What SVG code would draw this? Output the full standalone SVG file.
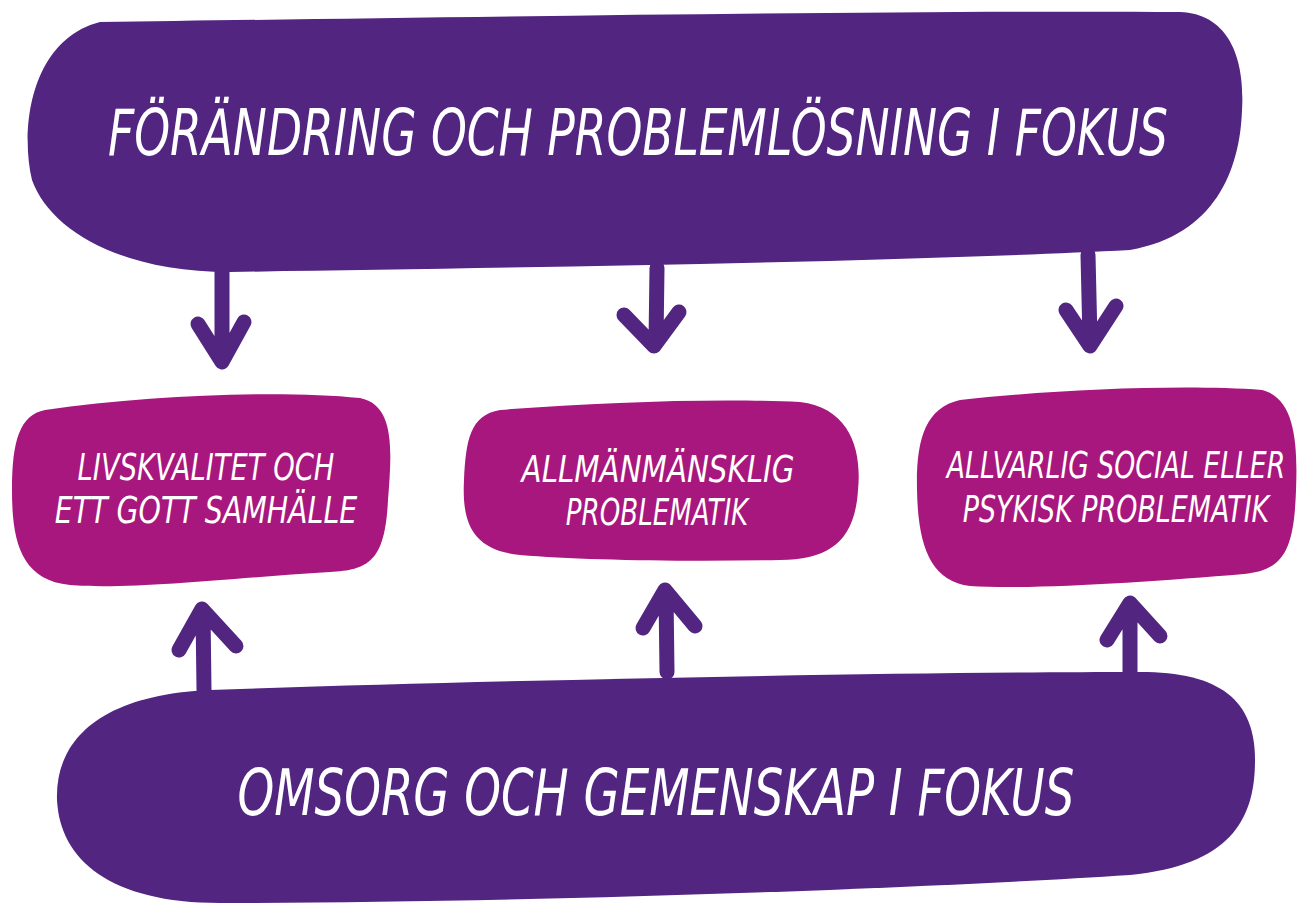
<svg xmlns="http://www.w3.org/2000/svg" width="1299" height="906" viewBox="0 0 1299 906">
<style>
.dark{fill:#522580}
.pink{fill:#A8177E}
.t{fill:#ffffff;font-family:"DejaVu Sans Condensed","DejaVu Sans",sans-serif;font-style:italic;text-anchor:middle}
.big{font-size:64px}
.small{font-size:37px}
.arr{fill:none;stroke:#522580;stroke-width:15;stroke-linecap:round;stroke-linejoin:round}
.head{fill:#522580}
</style>
<rect width="1299" height="906" fill="#ffffff"/>
<g id="top-node">
<path class="dark" d="M 100,22 C 400,18 900,10 1180,12 C 1230,14 1245,60 1242,110 C 1240,170 1215,235 1130,250 C 900,262 500,268 230,272 C 120,272 50,230 32,180 C 20,130 30,40 100,22 Z"/>
<text class="t big" transform="translate(638,155) scale(0.8,1)" x="0" y="0" textLength="1325" lengthAdjust="spacingAndGlyphs">FÖRÄNDRING OCH PROBLEMLÖSNING I FOKUS</text>
</g>
<g id="bottom-node">
<path class="dark" d="M 210,690 C 500,680 900,672 1140,672 C 1220,672 1255,700 1255,760 C 1255,820 1230,865 1130,875 C 900,890 500,903 220,903 C 110,903 60,860 57,800 C 55,740 100,695 210,690 Z"/>
<text class="t big" transform="translate(656,815) scale(0.8,1)" x="0" y="0" textLength="1046" lengthAdjust="spacingAndGlyphs">OMSORG OCH GEMENSKAP I FOKUS</text>
</g>
<g id="box-livskvalitet">
<path class="pink" d="M 45,410 C 150,395 280,390 360,398 C 395,405 392,450 388,500 C 385,560 370,570 330,572 C 230,578 130,590 70,585 C 20,580 12,540 12,490 C 12,440 20,415 45,410 Z"/>
<text class="t small" transform="translate(206,480) scale(0.8,1)" x="0" y="0" textLength="321" lengthAdjust="spacingAndGlyphs">LIVSKVALITET OCH</text>
<text class="t small" transform="translate(206,523) scale(0.8,1)" x="0" y="0" textLength="378" lengthAdjust="spacingAndGlyphs">ETT GOTT SAMHÄLLE</text>
</g>
<g id="box-allmanmansklig">
<path class="pink" d="M 500,410 C 600,402 720,398 800,402 C 850,408 862,450 858,490 C 855,540 830,560 780,560 C 680,562 580,560 520,555 C 470,550 462,520 464,480 C 466,440 470,415 500,410 Z"/>
<text class="t small" transform="translate(658,482) scale(0.8,1)" x="0" y="0" textLength="341" lengthAdjust="spacingAndGlyphs">ALLMÄNMÄNSKLIG</text>
<text class="t small" transform="translate(657,525) scale(0.8,1)" x="0" y="0" textLength="228" lengthAdjust="spacingAndGlyphs">PROBLEMATIK</text>
</g>
<g id="box-allvarlig">
<path class="pink" d="M 960,400 C 1050,390 1180,384 1262,390 C 1294,398 1298,440 1296,490 C 1294,550 1284,570 1244,574 C 1150,582 1030,590 970,586 C 930,581 918,545 917,490 C 916,440 925,408 960,400 Z"/>
<text class="t small" transform="translate(1116,478) scale(0.8,1)" x="0" y="0" textLength="423" lengthAdjust="spacingAndGlyphs">ALLVARLIG SOCIAL ELLER</text>
<text class="t small" transform="translate(1116,522) scale(0.8,1)" x="0" y="0" textLength="383" lengthAdjust="spacingAndGlyphs">PSYKISK PROBLEMATIK</text>
</g>
<g id="connectors">
<path class="arr" d="M 222,268 L 222,350 M 198,324 L 222,362 L 244,322"/>
<path class="head" d="M 204,330 L 222,365 L 238,328 L 222,345 Z"/>
<path class="arr" d="M 657,268 L 656,342 M 624,315 L 654,346 L 679,312"/>
<path class="arr" d="M 1088,255 L 1090,340 M 1066,310 L 1090,346 L 1116,306"/>
<path class="arr" d="M 204,690 L 203,612 M 179,650 L 202,609 L 236,646"/>
<path class="arr" d="M 667,672 L 666,594 M 643,628 L 665,590 L 695,626"/>
<path class="arr" d="M 1130,672 L 1130,606 M 1107,640 L 1130,603 L 1160,636"/>
</g>
</svg>
